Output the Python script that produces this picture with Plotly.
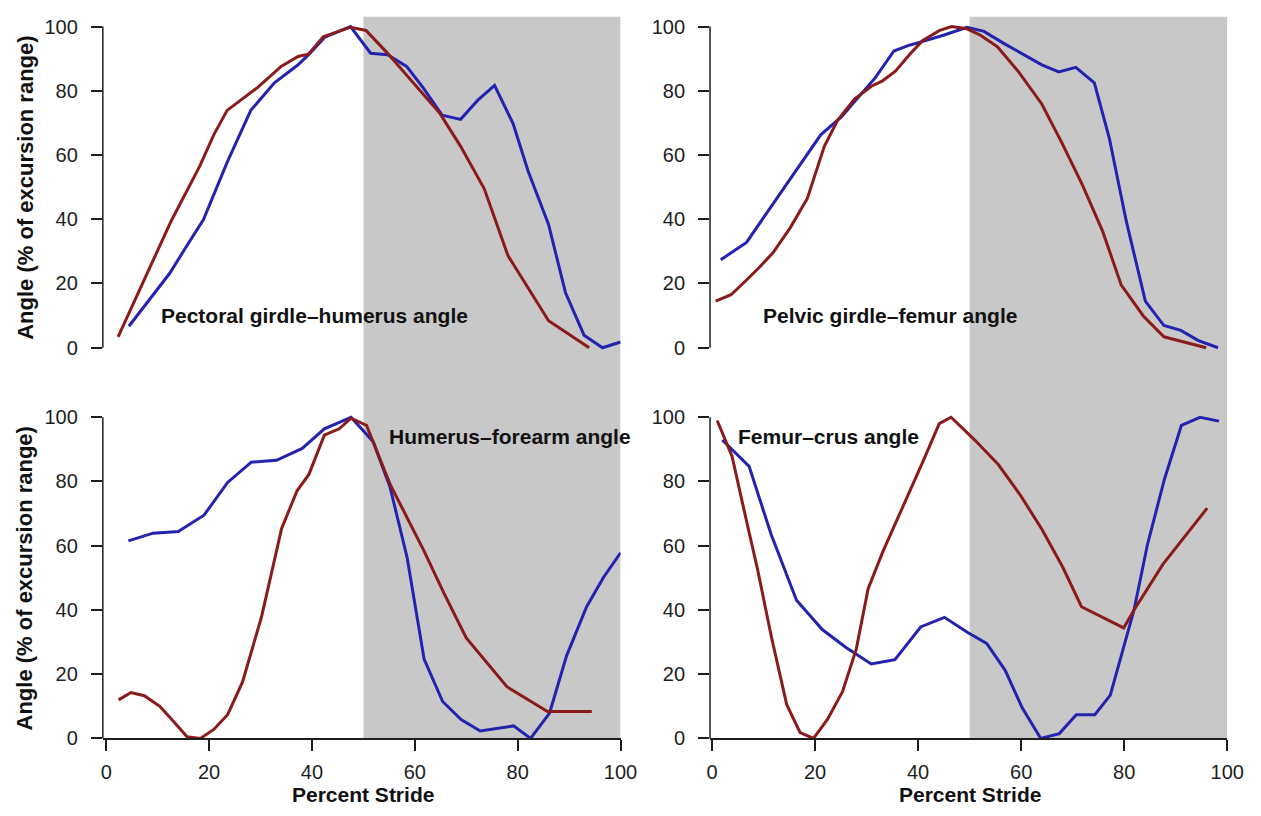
import plotly.graph_objects as go

# ---------------- data (percent stride, % of excursion range) ----------------
pect_red_x = [2.3, 12.6, 18.2, 20.9, 23.5, 26.8, 29.4, 34.0, 37.3, 39.3, 42.2, 47.5, 50.5, 54.4, 61.0, 64.9, 68.9, 73.5, 78.1, 86.0, 93.9]
pect_red_y = [3.4, 39.4, 56.6, 66.3, 73.9, 78.0, 81.0, 87.6, 90.7, 91.4, 96.8, 99.8, 98.8, 92.2, 80.0, 72.9, 62.7, 49.5, 28.7, 8.4, 0.0]
pect_blue_x = [4.4, 12.3, 15.3, 18.9, 23.5, 28.1, 32.7, 37.3, 39.3, 42.6, 47.5, 51.4, 54.7, 58.4, 61.6, 65.3, 68.9, 72.2, 75.5, 79.1, 82.0, 86.0, 89.3, 92.9, 96.5, 100.0]
pect_blue_y = [6.7, 23.1, 30.8, 39.9, 57.7, 73.9, 82.5, 88.1, 91.2, 96.8, 100.0, 91.7, 91.2, 87.6, 81.0, 72.4, 71.1, 77.0, 81.7, 69.8, 55.1, 38.4, 17.1, 3.9, 0.0, 1.8]

pelv_red_x = [0.7, 3.7, 6.7, 9.3, 11.9, 15.2, 18.5, 21.8, 24.4, 27.7, 31.0, 33.0, 35.6, 38.3, 40.9, 44.2, 46.5, 49.5, 52.1, 55.4, 59.4, 64.0, 67.9, 71.9, 75.8, 79.4, 83.7, 87.7, 91.6, 95.9]
pelv_red_y = [14.5, 16.5, 21.1, 25.2, 29.7, 37.4, 46.5, 62.7, 70.9, 77.5, 81.5, 83.0, 86.1, 91.2, 95.7, 98.8, 100.0, 99.3, 97.3, 93.7, 86.1, 75.9, 63.8, 50.6, 36.3, 19.6, 9.9, 3.4, 1.8, 0.0]
pelv_blue_x = [1.7, 6.7, 10.6, 14.6, 17.9, 21.1, 25.1, 28.4, 31.7, 35.3, 38.3, 41.6, 44.9, 49.5, 52.8, 56.7, 60.7, 64.0, 67.3, 70.6, 74.2, 77.1, 80.4, 84.1, 87.7, 91.0, 94.3, 98.2]
pelv_blue_y = [27.4, 32.8, 41.9, 51.1, 58.7, 66.3, 71.9, 78.0, 84.1, 92.4, 94.2, 95.7, 97.3, 99.8, 98.5, 94.7, 91.2, 88.1, 85.9, 87.3, 82.5, 65.3, 39.4, 14.5, 6.9, 5.4, 2.3, 0.0]

hum_red_x = [2.4, 4.8, 7.4, 10.4, 13.0, 15.7, 18.3, 20.9, 23.6, 26.5, 30.2, 34.1, 37.1, 39.4, 42.4, 45.3, 47.6, 50.6, 55.2, 61.8, 65.7, 70.0, 77.9, 85.8, 94.4]
hum_red_y = [12.0, 14.3, 13.3, 10.0, 5.4, 0.5, 0.0, 2.8, 7.4, 17.6, 37.9, 65.4, 77.1, 82.2, 94.4, 96.4, 99.7, 97.5, 79.1, 58.3, 45.1, 31.3, 16.1, 8.4, 8.4]
hum_blue_x = [4.3, 9.1, 14.0, 19.0, 23.6, 28.2, 33.1, 38.1, 42.4, 47.6, 51.9, 55.2, 58.5, 61.8, 65.4, 69.0, 72.7, 79.2, 82.5, 86.2, 89.5, 93.4, 96.7, 100.0]
hum_blue_y = [61.5, 63.9, 64.4, 69.5, 79.7, 86.0, 86.6, 90.3, 96.4, 100.0, 92.4, 78.1, 56.3, 24.7, 11.5, 5.9, 2.3, 3.9, 0.0, 7.9, 25.7, 41.0, 50.2, 57.8]

fem_red_x = [1.0, 3.9, 6.3, 8.9, 11.5, 14.5, 17.1, 19.7, 22.4, 25.3, 28.0, 30.3, 33.2, 37.2, 41.1, 44.1, 46.4, 51.0, 55.6, 59.9, 64.1, 68.1, 71.7, 79.9, 81.9, 87.5, 96.1]
fem_red_y = [99.0, 87.8, 70.5, 52.2, 31.8, 10.5, 1.8, 0.0, 5.9, 14.5, 27.8, 46.6, 58.3, 72.5, 86.8, 98.0, 100.0, 92.9, 85.2, 75.6, 64.9, 53.2, 41.0, 34.4, 40.0, 54.2, 71.7]
fem_blue_x = [2.0, 7.2, 11.5, 16.4, 21.4, 26.0, 30.9, 35.5, 40.5, 45.1, 49.7, 53.3, 56.9, 60.2, 63.8, 67.4, 70.7, 74.3, 77.3, 81.9, 84.5, 87.8, 91.1, 94.7, 98.4]
fem_blue_y = [92.9, 84.7, 63.4, 43.0, 33.9, 28.3, 23.2, 24.5, 34.7, 37.7, 32.9, 29.6, 21.2, 9.5, 0.0, 1.5, 7.4, 7.4, 13.5, 40.0, 60.3, 80.7, 97.5, 100.0, 98.8]

panel_titles = ["Pectoral girdle\u2013humerus angle", "Pelvic girdle\u2013femur angle",
                "Humerus\u2013forearm angle", "Femur\u2013crus angle"]
x_ticks = [0, 20, 40, 60, 80, 100]
y_ticks = [0, 20, 40, 60, 80, 100]
shade_start, shade_end = 50, 100
x_title = "Percent Stride"
y_title = "Angle (% of excursion range)"

# ---------------- styling ----------------
W, H = 1261, 816
RED = "#8B1A1A"
BLUE = "#2323AF"
GRAY = "#C8C8C8"
INK = "#1e1e1e"
FONT = "Liberation Sans, Arial, Helvetica, sans-serif"

def px_x(p):
    return p / W

def px_y(p):
    return 1 - p / H

# pixel geometry of each column / row
cols = [dict(spine=100.5, x0=104.0, x100=627.0), dict(spine=718.0, x0=720.0, x100=1244.0)]
rows = [dict(y100=21.0, y0=349.0, lo=-1.5, hi=101.5), dict(y100=420.0, y0=748.0, lo=0.0, hi=101.5)]

fig = go.Figure()

panels = [
    (0, 0, pect_red_x, pect_red_y, pect_blue_x, pect_blue_y),
    (0, 1, pelv_red_x, pelv_red_y, pelv_blue_x, pelv_blue_y),
    (1, 0, hum_red_x, hum_red_y, hum_blue_x, hum_blue_y),
    (1, 1, fem_red_x, fem_red_y, fem_blue_x, fem_blue_y),
]

layout = dict(
    autosize=True,
    margin=dict(l=0, r=0, t=0, b=0),
    paper_bgcolor="white", plot_bgcolor="rgba(0,0,0,0)",
    showlegend=False,
    font=dict(family=FONT, color=INK, size=20),
    shapes=[], annotations=[],
)

for i, (r, c, rx, ry, bx, by) in enumerate(panels):
    n = i + 1
    xa = "x" if n == 1 else f"x{n}"
    ya = "y" if n == 1 else f"y{n}"
    col, row = cols[c], rows[r]
    scale_x = (col["x100"] - col["x0"]) / 100.0
    xr0 = -(col["x0"] - col["spine"]) / scale_x
    scale_y = (row["y0"] - row["y100"]) / 100.0
    top_px = row["y100"] - (row["hi"] - 100) * scale_y
    bot_px = row["y0"] + (0 - row["lo"]) * scale_y

    fig.add_trace(go.Scatter(x=bx, y=by, mode="lines", line=dict(color=BLUE, width=3),
                             xaxis=xa, yaxis=ya, hoverinfo="skip"))
    fig.add_trace(go.Scatter(x=rx, y=ry, mode="lines", line=dict(color=RED, width=3),
                             xaxis=xa, yaxis=ya, hoverinfo="skip"))

    bottom = (r == 1)
    layout["xaxis" if n == 1 else f"xaxis{n}"] = dict(
        domain=[px_x(col["spine"]), px_x(col["x100"])],
        range=[xr0, 100], anchor=ya,
        showgrid=False, zeroline=False,
        showline=bottom, linecolor=INK, linewidth=1.5,
        ticks="outside" if bottom else "", ticklen=11, tickwidth=1.5, tickcolor=INK,
        tickvals=x_ticks if bottom else [], showticklabels=bottom,
        ticklabelstandoff=4,
        tickfont=dict(size=20, color=INK, family=FONT),
    )
    layout["yaxis" if n == 1 else f"yaxis{n}"] = dict(
        domain=[px_y(bot_px), px_y(top_px)],
        range=[row["lo"], row["hi"]], anchor=xa,
        showgrid=False, zeroline=False, showline=False,
        ticks="outside", ticklen=11, tickwidth=1.5, tickcolor=INK,
        ticklabelstandoff=9,
        tickvals=y_ticks, tickfont=dict(size=20, color=INK, family=FONT),
    )
    # R-style y spine from 0 to 100
    layout["shapes"].append(dict(type="line", xref=f"{xa} domain", yref=ya,
                                 x0=0, x1=0, y0=0, y1=100,
                                 line=dict(color=INK, width=1.5)))

# shaded stance phase (continuous band through both rows of each column)
for xa in ["x3", "x4"]:
    layout["shapes"].append(dict(type="rect", xref=xa, yref="paper",
                                 x0=shade_start, x1=shade_end,
                                 y0=px_y(748), y1=px_y(11),
                                 fillcolor=GRAY, line=dict(width=0), layer="below"))

# panel labels
label_pos = [(158, 316), (770, 316), (389, 440), (744, 440)]
for (lx, ly), txt in zip(label_pos, panel_titles):
    layout["annotations"].append(dict(
        text=f"<b>{txt}</b>", xref="paper", yref="paper",
        x=px_x(lx), y=px_y(ly), xanchor="left", yanchor="middle",
        showarrow=False, font=dict(size=21, color="#111", family=FONT)))

# y titles
for cy in [186, 585]:
    layout["annotations"].append(dict(
        text=f"<b>{y_title}</b>", xref="paper", yref="paper",
        x=px_x(21), y=px_y(cy), xanchor="center", yanchor="middle", textangle=-90,
        showarrow=False, font=dict(size=22, color="#111", family=FONT)))

# x titles
for cx in [365.5, 982.0]:
    layout["annotations"].append(dict(
        text=f"<b>{x_title}</b>", xref="paper", yref="paper",
        x=px_x(cx), y=px_y(805), xanchor="center", yanchor="middle",
        showarrow=False, font=dict(size=21, color="#111", family=FONT)))

fig.update_layout(**layout)
post = ("document.documentElement.style.margin='0';document.documentElement.style.overflow='hidden';"
        "document.body.style.margin='0';document.body.style.overflow='hidden';"
        "var gd=document.getElementById('{plot_id}');"
        "gd.style.width='100vw';gd.style.height='100vh';"
        "Plotly.Plots.resize(gd);")
fig.write_html("out.html", default_width="100vw", default_height="100vh",
               config={"displayModeBar": False, "responsive": True},
               post_script=post)
